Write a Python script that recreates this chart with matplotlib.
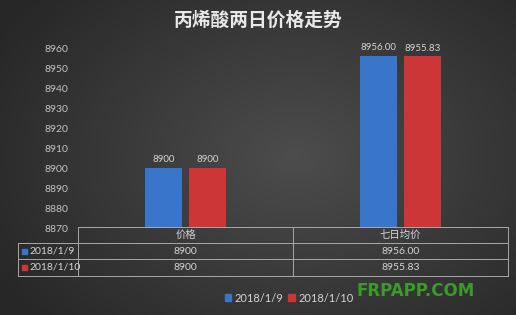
import numpy as np
import matplotlib
matplotlib.use('Agg')
import matplotlib.pyplot as plt
from matplotlib.patches import Rectangle
from matplotlib.lines import Line2D

plt.rcParams['font.family'] = ['Lato', 'Noto Sans CJK SC', 'DejaVu Sans']

# ── Data ─────────────────────────────────────────────────────────────────
title = '丙烯酸两日价格走势'
categories = ['价格', '七日均价']
series_names = ['2018/1/9', '2018/1/10']
day1 = [8900, 8956.00]
day2 = [8900, 8955.83]
day1_text = ['8900', '8956.00']
day2_text = ['8900', '8955.83']
yticks = [8870, 8880, 8890, 8900, 8910, 8920, 8930, 8940, 8950, 8960]

BLUE = '#3976CB'
RED = '#CD3637'
TXT = '#D4D4D4'
LINE = '#A8A8A8'

W, H = 516, 315
fig = plt.figure(figsize=(W / 100, H / 100), dpi=100)

# ── Background gradient ──────────────────────────────────────────────────
bg = fig.add_axes([0, 0, 1, 1], zorder=-10)
gx, gy = np.meshgrid(np.linspace(-1, 1, 300), np.linspace(-1, 1, 200))
r = np.sqrt(((gx - 0.15) / 1.1) ** 2 + (gy / 1.3) ** 2)
shade = 0.30 - 0.12 * np.clip(r, 0, 1.2)
bg.imshow(np.dstack([shade] * 3), aspect='auto', extent=[0, 1, 0, 1])
bg.axis('off')


def fx(px):
    return px / W


def fy(py):
    return 1 - py / H


# ── Main axes ────────────────────────────────────────────────────────────
L, R, T, B = 78, 508, 48, 228
ax = fig.add_axes([fx(L), fy(B), fx(R) - fx(L), fy(T) - fy(B)])
ax.set_facecolor('none')
x = np.arange(len(categories))
bw, off = 0.172, 0.102
ax.bar(x - off, [v - 8870 for v in day1], bw, bottom=8870, color=BLUE)
ax.bar(x + off, [v - 8870 for v in day2], bw, bottom=8870, color=RED)
for i in x:
    ax.text(i - off, day1[i] + 1.8, day1_text[i], ha='center', va='bottom',
            fontsize=7, color=TXT)
    ax.text(i + off, day2[i] + 1.8, day2_text[i], ha='center', va='bottom',
            fontsize=7, color=TXT)
ax.set_xlim(-0.5, 1.5)
ax.set_ylim(8870, 8960)
ax.set_yticks(yticks)
ax.set_xticks([])
ax.tick_params(axis='y', length=0, pad=7, labelsize=7.5, labelcolor='#C4C4C4')
for s in ax.spines.values():
    s.set_visible(False)

# ── Title ────────────────────────────────────────────────────────────────
fig.text(0.5, fy(20), title, ha='center', va='center', fontsize=13.5,
         color='#E8E8E8', family=['Noto Sans CJK SC'], fontweight='bold')

# ── Data table below the axes ────────────────────────────────────────────
lk = dict(color=LINE, lw=0.7, transform=fig.transFigure)
rows_y = [227, 243, 259, 276]
cols_x = [L, 293, R]
fig.add_artist(Line2D([fx(L), fx(R)], [fy(227)] * 2, **lk))
for yy in rows_y[1:]:
    fig.add_artist(Line2D([fx(18), fx(R)], [fy(yy)] * 2, **lk))
for xx in cols_x:
    fig.add_artist(Line2D([fx(xx)] * 2, [fy(227), fy(276)], **lk))
fig.add_artist(Line2D([fx(18)] * 2, [fy(243), fy(276)], **lk))

centers = [(cols_x[i] + cols_x[i + 1]) / 2 for i in range(len(categories))]
for c, cat in zip(centers, categories):
    fig.text(fx(c), fy(235), cat, ha='center', va='center', fontsize=7.5,
             color=TXT, family=['Noto Sans CJK SC'])
table_rows = [day1_text, day2_text]
row_cols = [BLUE, RED]
for k, (name, vals, col) in enumerate(zip(series_names, table_rows, row_cols)):
    yc = (rows_y[k + 1] + rows_y[k + 2]) / 2
    fig.add_artist(Rectangle((fx(22), fy(yc + 2.5)), fx(5), fy(0) - fy(5),
                             color=col, transform=fig.transFigure))
    fig.text(fx(29), fy(yc), name, ha='left', va='center', fontsize=7.5,
             color=TXT)
    for c, v in zip(centers, vals):
        fig.text(fx(c), fy(yc), v, ha='center', va='center', fontsize=7.5,
                 color=TXT)

# ── Legend ───────────────────────────────────────────────────────────────
handles = [Rectangle((0, 0), 1, 1, color=BLUE), Rectangle((0, 0), 1, 1, color=RED)]
fig.legend(handles, series_names, loc='center', bbox_to_anchor=(fx(289), fy(298)),
           ncol=2, frameon=False, handlelength=0.6, handleheight=0.6,
           handletextpad=0.3, columnspacing=0.4, labelcolor=TXT,
           prop={'family': 'Lato', 'size': 8})

# ── Watermark ────────────────────────────────────────────────────────────
fig.text(fx(357), fy(291), 'FRPAPP.COM', ha='left', va='center', fontsize=12,
         fontweight='bold', color='#3A9A2A', family='DejaVu Sans')

fig.savefig('out.png', dpi=100)
